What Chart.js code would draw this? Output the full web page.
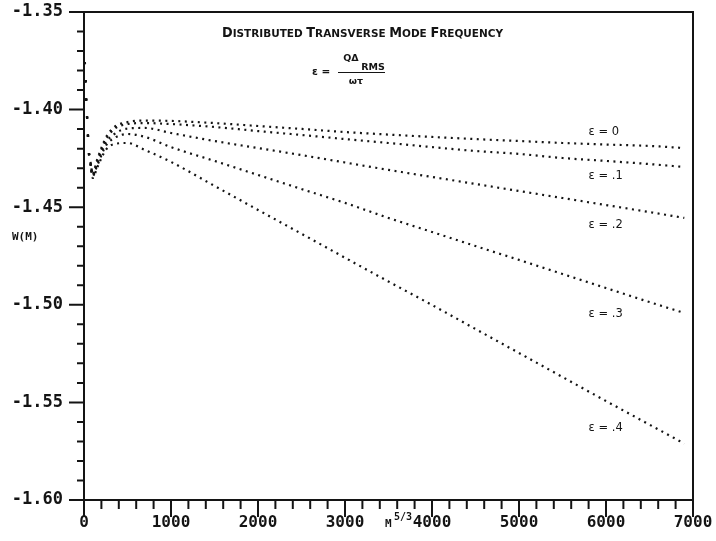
<!DOCTYPE html>
<html>
<head>
<meta charset="utf-8">
<script src="https://cdn.jsdelivr.net/npm/chart.js@4.4.1/dist/chart.umd.min.js"></script>
<style>
html,body{margin:0;padding:0;background:#ffffff;}
#wrap{width:716px;height:541px;position:relative;}
canvas{display:block;}
</style>
</head>
<body>
<div id="wrap"><canvas id="c" width="716" height="541"></canvas></div>
<script>
// ---- data ----
const mValues = [10, 25, 40, 55, 75, 100, 150, 250, 350, 500, 700, 1000, 1500, 2000, 2500, 3000, 3500, 4000, 4500, 5000, 5500, 6000, 6500, 6900];
const wEps0 = [-1.3756, -1.3951, -1.4079, -1.4207, -1.4268, -1.4330, -1.4258, -1.4145, -1.4089, -1.4064, -1.4056, -1.4058, -1.4069, -1.4084, -1.4099, -1.4115, -1.4128, -1.4140, -1.4151, -1.4161, -1.4171, -1.4179, -1.4186, -1.4197];
const wEps1 = [-1.3756, -1.3951, -1.4079, -1.4212, -1.4274, -1.4335, -1.4268, -1.4156, -1.4099, -1.4074, -1.4069, -1.4074, -1.4089, -1.4110, -1.4130, -1.4151, -1.4171, -1.4192, -1.4212, -1.4227, -1.4248, -1.4263, -1.4279, -1.4294];
const wEps2 = [-1.3756, -1.3951, -1.4079, -1.4212, -1.4274, -1.4335, -1.4279, -1.4171, -1.4125, -1.4097, -1.4094, -1.4120, -1.4161, -1.4197, -1.4233, -1.4271, -1.4309, -1.4345, -1.4381, -1.4417, -1.4453, -1.4489, -1.4525, -1.4555];
const wEps3 = [-1.3756, -1.3951, -1.4079, -1.4217, -1.4279, -1.4340, -1.4289, -1.4186, -1.4145, -1.4125, -1.4140, -1.4192, -1.4263, -1.4335, -1.4407, -1.4478, -1.4555, -1.4627, -1.4699, -1.4770, -1.4842, -1.4914, -1.4986, -1.5042];
const wEps4 = [-1.3756, -1.3951, -1.4079, -1.4217, -1.4279, -1.4350, -1.4299, -1.4207, -1.4176, -1.4171, -1.4207, -1.4268, -1.4391, -1.4514, -1.4636, -1.4759, -1.4881, -1.5001, -1.5124, -1.5247, -1.5370, -1.5493, -1.5614, -1.5711];
const seriesNames = ['ε = 0', 'ε = .1', 'ε = .2', 'ε = .3', 'ε = .4'];
const xTickValues = [0, 1000, 2000, 3000, 4000, 5000, 6000, 7000];
const yTickValues = [-1.60, -1.55, -1.50, -1.45, -1.40, -1.35];
const yTickLabels = ['-1.60', '-1.55', '-1.50', '-1.45', '-1.40', '-1.35'];
const titleText = 'DISTRIBUTED TRANSVERSE MODE FREQUENCY';
const yAxisTitle = 'W(M)';

// ---- styling ----
const INK = '#141414';
const MONO = '"DejaVu Sans Mono", "Liberation Mono", monospace';
const SANS = '"DejaVu Sans", "Liberation Sans", sans-serif';

const allSeries = [wEps0, wEps1, wEps2, wEps3, wEps4];
const datasets = allSeries.map((arr, i) => ({
  label: seriesNames[i],
  data: mValues.map((m, k) => ({x: m, y: arr[k]})),
  borderColor: INK,
  borderWidth: 2.2,
  borderDash: [2, 4.5],
  pointRadius: 0,
  fill: false,
  cubicInterpolationMode: 'monotone',
  segment: {
    borderDash: c => (c.p0DataIndex < 4 ? [2.2, 16] : undefined)
  }
}));

// where the curve names sit (data coordinates)
const curveLabelPos = [
  {x: 5800, y: -1.4115},
  {x: 5800, y: -1.4340},
  {x: 5800, y: -1.4591},
  {x: 5800, y: -1.5047},
  {x: 5800, y: -1.5631}
];

function smallCaps(ctx, text, cx, baseline, bigPx, smallPx, family, targetW) {
  const parts = [];
  const words = text.split(' ');
  words.forEach((w, wi) => {
    if (wi > 0) parts.push({t: ' ', s: smallPx});
    parts.push({t: w[0], s: bigPx});
    if (w.length > 1) parts.push({t: w.slice(1), s: smallPx});
  });
  let total = 0;
  parts.forEach(p => { ctx.font = 'bold ' + p.s + 'px ' + family; p.w = ctx.measureText(p.t).width; total += p.w; });
  const sx = targetW / total;
  ctx.save();
  ctx.translate(cx - targetW / 2, baseline);
  ctx.scale(sx, 1);
  let xx = 0;
  ctx.textAlign = 'left';
  ctx.textBaseline = 'alphabetic';
  parts.forEach(p => { ctx.font = 'bold ' + p.s + 'px ' + family; ctx.fillText(p.t, xx, 0); xx += p.w; });
  ctx.restore();
}

const decor = {
  id: 'decor',
  afterDraw(chart) {
    const {ctx, chartArea: a, scales} = chart;
    const xs = scales.x, ys = scales.y;
    ctx.save();
    ctx.strokeStyle = INK;
    ctx.fillStyle = INK;
    ctx.lineWidth = 2;
    ctx.strokeRect(a.left, a.top, a.right - a.left, a.bottom - a.top);
    ctx.beginPath();
    for (let i = 0; i <= 25; i++) {
      const py = ys.getPixelForValue(-1.60 + i * 0.01);
      const len = (i % 5 === 0) ? 15 : 7;
      ctx.moveTo(a.left - len, py); ctx.lineTo(a.left, py);
    }
    for (let i = 0; i <= 35; i++) {
      const px = xs.getPixelForValue(i * 200);
      const len = (i % 5 === 0) ? 17 : 9;
      ctx.moveTo(px, a.bottom); ctx.lineTo(px, a.bottom + len);
    }
    ctx.stroke();

    // title
    smallCaps(ctx, titleText, 362.5, 37, 13.5, 11, SANS, 281);

    // formula  eps = Q Delta_RMS / omega tau
    ctx.textBaseline = 'alphabetic';
    ctx.textAlign = 'center';
    ctx.font = 'bold 10.5px ' + SANS;
    ctx.fillText('ε', 315, 75);
    ctx.fillText('=', 326, 75);
    ctx.font = 'bold 9.5px ' + SANS;
    ctx.fillText('QΔ', 351, 61);
    ctx.fillText('RMS', 373, 70);
    ctx.fillText('ωτ', 356, 84);
    ctx.lineWidth = 1.2;
    ctx.beginPath(); ctx.moveTo(338, 72.5); ctx.lineTo(385, 72.5); ctx.stroke();

    // curve names
    ctx.font = '11.5px ' + SANS;
    ctx.textAlign = 'left';
    ctx.textBaseline = 'middle';
    curveLabelPos.forEach((p, i) => {
      ctx.fillText(seriesNames[i], xs.getPixelForValue(p.x), ys.getPixelForValue(p.y));
    });

    // axis titles
    ctx.font = 'bold 11px ' + MONO;
    ctx.textAlign = 'left';
    ctx.fillText(yAxisTitle, 12, 237);
    ctx.textBaseline = 'alphabetic';
    ctx.font = 'bold 11px ' + MONO;
    ctx.fillText('M', 385, 527);
    ctx.font = 'bold 10px ' + MONO;
    ctx.fillText('5/3', 394, 520);
    ctx.restore();
  }
};

function zeroPad(s) { s.paddingTop = 0; s.paddingBottom = 0; s.paddingLeft = 0; s.paddingRight = 0; }

Chart.defaults.font.family = MONO;
Chart.defaults.color = INK;

new Chart(document.getElementById('c'), {
  type: 'line',
  data: {datasets},
  options: {
    responsive: false,
    animation: false,
    layout: {padding: {left: 0, right: 23, top: 12, bottom: 0}},
    plugins: {legend: {display: false}, tooltip: {enabled: false}},
    scales: {
      x: {
        type: 'linear', min: 0, max: 7000,
        grid: {display: false, drawTicks: false},
        border: {display: false},
        afterBuildTicks: s => { s.ticks = xTickValues.map(v => ({value: v})); },
        afterFit: s => { s.height = 41; zeroPad(s); },
        ticks: {
          padding: 13,
          maxRotation: 0, autoSkip: false,
          font: {family: MONO, size: 16, weight: 'bold'},
          color: INK,
          callback: v => String(v)
        }
      },
      y: {
        type: 'linear', min: -1.60, max: -1.35,
        grid: {display: false, drawTicks: false},
        border: {display: false},
        afterBuildTicks: s => { s.ticks = yTickValues.map(v => ({value: v})); },
        afterFit: s => { s.width = 84; zeroPad(s); },
        ticks: {
          padding: 21,
          autoSkip: false,
          font: {family: MONO, size: 17, weight: 'bold'},
          color: INK,
          callback: (v, i) => yTickLabels[i]
        }
      }
    }
  },
  plugins: [decor]
});
</script>
</body>
</html>
